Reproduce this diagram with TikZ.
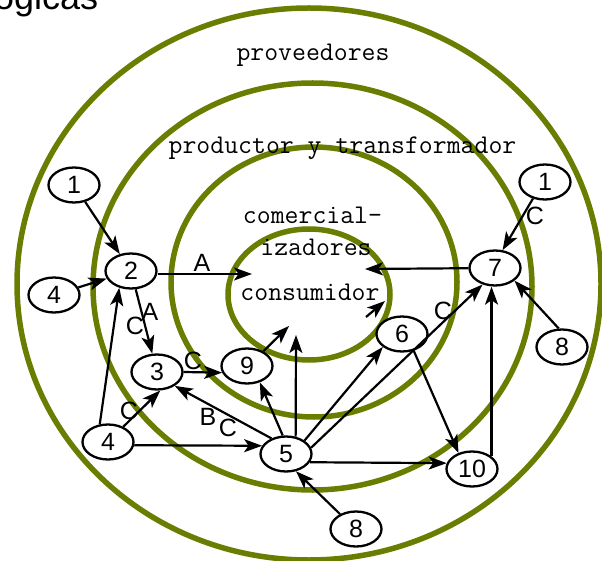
\documentclass[tikz,border=0pt]{standalone}
\usepackage{fontspec}
\newfontfamily\numfont{Liberation Sans}
\usetikzlibrary{shapes.geometric,arrows.meta}
\definecolor{ringgreen}{RGB}{107,125,0}
\begin{document}
\begin{tikzpicture}[x=1pt,y=-1pt,
  ringline/.style={draw=ringgreen,line width=5.5pt},
  num/.style={ellipse,draw,fill=white,line width=2.3pt,minimum width=51pt,minimum height=35pt,inner sep=0pt,font=\numfont\fontsize{25}{25}\selectfont},
  arr/.style={-{Stealth[length=18pt,width=13pt,inset=4.5pt]},line width=2.2pt},
  lab/.style={font=\numfont\fontsize{25}{25}\selectfont,inner sep=0pt},
  ringtext/.style={font=\ttfamily\fontsize{27}{27}\selectfont,inner sep=0pt,anchor=base}]
\useasboundingbox (0,0) rectangle (602,561);
\begin{scope}
\clip (0,0) rectangle (602,561);
\node[font=\numfont\fontsize{36}{36}\selectfont,inner sep=0pt,anchor=base west] (title) at (-6,10) {ogicas};
% rings
\draw[ringline] (309,284) ellipse [x radius=292pt, y radius=276pt];
\draw[ringline] (312.5,286.5) ellipse [x radius=219.5pt, y radius=203.5pt];
\draw[ringline] (314,282) ellipse [x radius=143pt, y radius=135pt];
\draw[ringline] (309,294.5) ellipse [x radius=81pt, y radius=65.5pt];
\end{scope}
% ring texts
\node[ringtext] (tprov) at (313,61) {proveedores};
\node[ringtext] (tprod) at (342.5,154) {productor y transformador};
\node[ringtext] (tcom) at (312.5,224) {comercial-};
\node[ringtext] (tiza) at (316,256) {izadores};
\node[ringtext] (tcons) at (310,300) {consumidor};
% nodes
\node[num] (n1a) at (74,185) {1};
\node[num] (n2) at (131,271) {2};
\node[num] (n4a) at (54,295) {4};
\node[num] (n3) at (157,372) {3};
\node[num] (n9) at (247,366) {9};
\node[num] (n4b) at (108,442) {4};
\node[num] (n5) at (286,454) {5};
\node[num] (n6) at (402,334) {6};
\node[num] (n10) at (472,469) {10};
\node[num] (n8r) at (562,347) {8};
\node[num] (n8b) at (356,529) {8};
\node[num] (n7) at (495,268) {7};
\node[num] (n1r) at (545,182) {1};
% free ends
\coordinate (cA) at (252,274);
\coordinate (cB) at (365,269);
\coordinate (cC) at (296,335);
\coordinate (cD) at (289,326);
\coordinate (cEtail) at (366,317);
\coordinate (cEtip) at (385,301);
% edges
\draw[arr] (n1a) -- (n2);
\draw[arr] (n4a) -- (n2);
\draw[arr] (n2.east |- cA) -- (cA);
\draw[arr] (n7) -- (cB);
\draw[arr] (n2) -- (n3);
\draw[arr] (n3.east) -- (n9.195);
\draw[arr] (n4b.45) -- (n3.-80);
\draw[arr] (n4b.115) -- (n2.235);
\draw[arr] (n4b.-7) -- (n5.161);
\draw[arr] (n5.133) -- (n3.-38);
\draw[arr] (n5.100) -- (n9.-52);
\draw[arr] (n5.61) -- (cC);
\draw[arr] (n9.42) -- (cD);
\draw[arr] (cEtail) -- (cEtip);
\draw[arr] (n5.36) -- (n6.214);
\draw[arr] (n5.14) -- (n7.233);
\draw[arr] (n5.-19) -- (n10.167);
\draw[arr] (n6.-55) -- (n10.130);
\draw[arr] (n10.33) -- (n10.33 |- n7.south);
\draw[arr] (n8r.100) -- (n7.-33);
\draw[arr] (n1r.234) -- (n7.67);
\draw[arr] (n8b.137) -- (n5.-60);
% labels
\node[lab] (lA1) at (202,263) {A};
\node[lab] (lA2) at (150,312) {A};
\node[lab] (lC1) at (135,326) {C};
\node[lab] (lC2) at (193,361) {C};
\node[lab] (lC3) at (129,411) {C};
\node[lab] (lB) at (208,417) {B};
\node[lab] (lC4) at (228,428) {C};
\node[lab] (lC5) at (443,311) {C};
\node[lab] (lC6) at (535,216) {C};
\end{tikzpicture}
\end{document}
